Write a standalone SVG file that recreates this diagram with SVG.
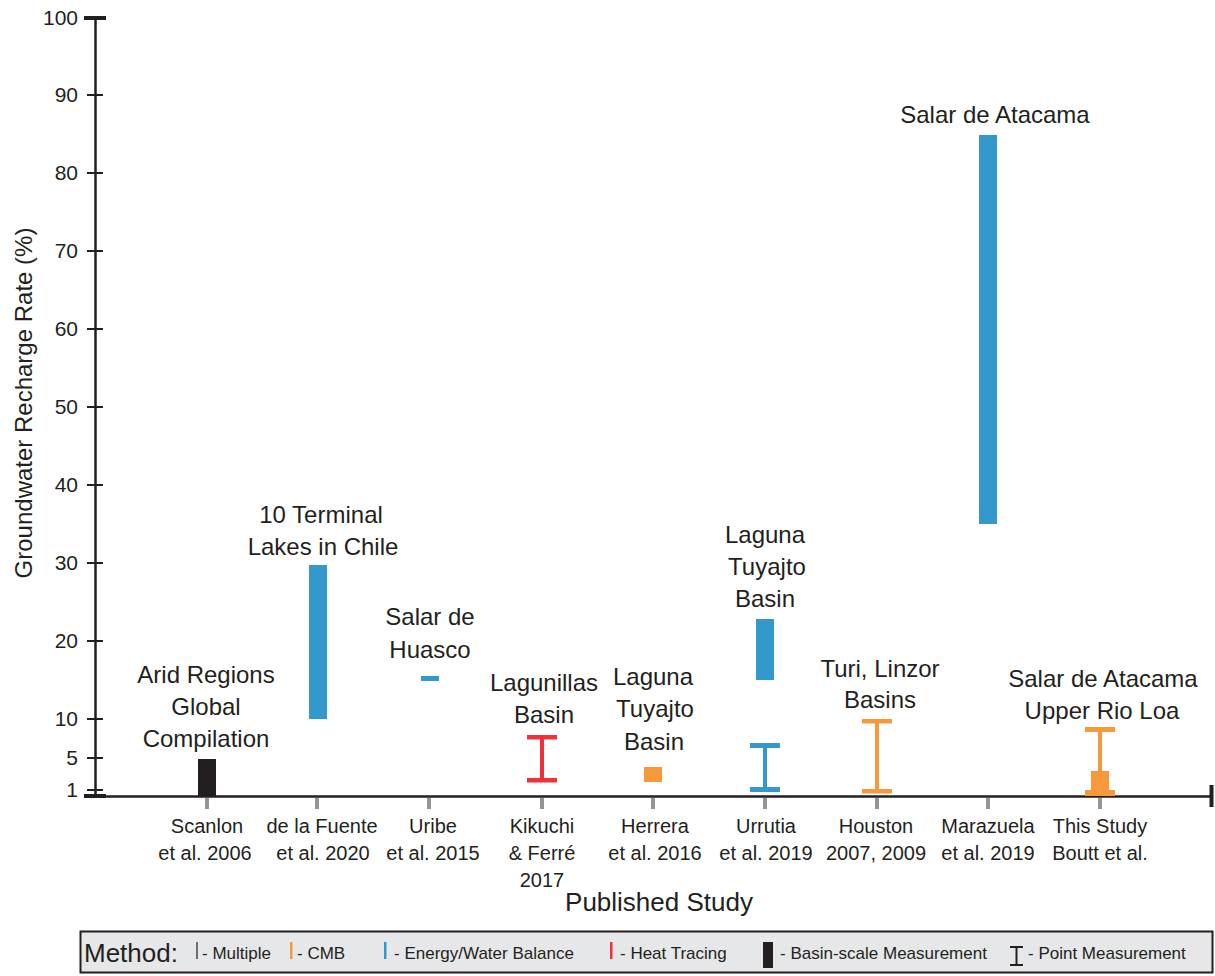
<svg xmlns="http://www.w3.org/2000/svg" width="1215" height="976" viewBox="0 0 1215 976">
<style>
.t{font-family:"Liberation Sans",Arial,sans-serif;fill:#231f20}
.ax{font-size:21px;text-anchor:end}
.lb{font-size:24px;text-anchor:middle}
.xl{font-size:20px;text-anchor:middle}
.lg{font-size:17px}
.blue{fill:#3399cc}
.orange{fill:#f7993a}
.red{fill:#ee3237}
.blk{fill:#231f20}
.axl{stroke:#231f20;fill:none}
.xt{stroke:#939598;stroke-width:4}
</style>
<rect width="1215" height="976" fill="#ffffff"/>
<g id="axes">
<line class="axl" x1="95.5" y1="18" x2="95.5" y2="797" stroke-width="2.5"/>
<line class="axl" x1="84" y1="18" x2="106" y2="18" stroke-width="4"/>
<g stroke="#231f20" stroke-width="2">
<line x1="87" y1="95" x2="103" y2="95"/>
<line x1="87" y1="173" x2="103" y2="173"/>
<line x1="87" y1="251" x2="103" y2="251"/>
<line x1="87" y1="329" x2="103" y2="329"/>
<line x1="87" y1="407" x2="103" y2="407"/>
<line x1="87" y1="485" x2="103" y2="485"/>
<line x1="87" y1="563" x2="103" y2="563"/>
<line x1="87" y1="641" x2="103" y2="641"/>
<line x1="87" y1="719" x2="103" y2="719"/>
<line x1="87" y1="758" x2="103" y2="758"/>
<line x1="87" y1="790" x2="103" y2="790"/>
</g>
<line class="axl" x1="84" y1="796" x2="106" y2="796" stroke-width="4"/>
<line class="axl" x1="95" y1="796.5" x2="1212" y2="796.5" stroke-width="2.5"/>
<line class="axl" x1="1211.5" y1="785" x2="1211.5" y2="807" stroke-width="4"/>
<g class="t ax">
<text x="78" y="25">100</text>
<text x="78" y="102">90</text>
<text x="78" y="180">80</text>
<text x="78" y="258">70</text>
<text x="78" y="336">60</text>
<text x="78" y="414">50</text>
<text x="78" y="492">40</text>
<text x="78" y="570">30</text>
<text x="78" y="648">20</text>
<text x="78" y="726">10</text>
<text x="78" y="765">5</text>
<text x="78" y="797">1</text>
</g>
<g>
<line class="xt" x1="207" y1="798" x2="207" y2="809"/>
<line class="xt" x1="317" y1="798" x2="317" y2="809"/>
<line class="xt" x1="429" y1="798" x2="429" y2="809"/>
<line class="xt" x1="542" y1="798" x2="542" y2="809"/>
<line class="xt" x1="653" y1="798" x2="653" y2="809"/>
<line class="xt" x1="765" y1="798" x2="765" y2="809"/>
<line class="xt" x1="877" y1="798" x2="877" y2="809"/>
<line class="xt" x1="988" y1="798" x2="988" y2="809"/>
<line class="xt" x1="1100" y1="798" x2="1100" y2="809"/>
</g>
<text class="t" font-size="24" text-anchor="middle" transform="translate(32,403) rotate(-90)">Groundwater Recharge Rate (%)</text>
<text class="t" font-size="26" text-anchor="middle" x="659" y="911">Published Study</text>
</g>
<g id="scanlon">
<rect class="blk" x="198" y="759" width="18" height="37"/>
<text class="t lb" x="206" y="683">Arid Regions</text>
<text class="t lb" x="206" y="715">Global</text>
<text class="t lb" x="206" y="747">Compilation</text>
<text class="t xl" x="207" y="833">Scanlon</text>
<text class="t xl" x="205" y="860">et al. 2006</text>
</g>
<g id="delafuente">
<rect class="blue" x="309" y="565" width="18" height="154"/>
<text class="t lb" x="321" y="523">10 Terminal</text>
<text class="t lb" x="323" y="555">Lakes in Chile</text>
<text class="t xl" x="322" y="833">de la Fuente</text>
<text class="t xl" x="323" y="860">et al. 2020</text>
</g>
<g id="uribe">
<rect class="blue" x="421" y="676" width="18" height="5"/>
<text class="t lb" x="430" y="625">Salar de</text>
<text class="t lb" x="430" y="658">Huasco</text>
<text class="t xl" x="433" y="833">Uribe</text>
<text class="t xl" x="433" y="860">et al. 2015</text>
</g>
<g id="kikuchi">
<rect class="red" x="527" y="735" width="30" height="4.5"/>
<rect class="red" x="540" y="737" width="4" height="43"/>
<rect class="red" x="527" y="778" width="30" height="4.5"/>
<text class="t lb" x="544" y="691">Lagunillas</text>
<text class="t lb" x="544" y="723">Basin</text>
<text class="t xl" x="542" y="833">Kikuchi</text>
<text class="t xl" x="542" y="860">&amp; Ferré</text>
<text class="t xl" x="542" y="887">2017</text>
</g>
<g id="herrera">
<rect class="orange" x="644" y="767" width="18" height="15"/>
<text class="t lb" x="653" y="685">Laguna</text>
<text class="t lb" x="655" y="717">Tuyajto</text>
<text class="t lb" x="654" y="750">Basin</text>
<text class="t xl" x="655" y="833">Herrera</text>
<text class="t xl" x="655" y="860">et al. 2016</text>
</g>
<g id="urrutia">
<rect class="blue" x="756" y="619" width="18" height="61"/>
<rect class="blue" x="750" y="743" width="30" height="5"/>
<rect class="blue" x="763" y="745" width="4" height="44"/>
<rect class="blue" x="750" y="787" width="30" height="5"/>
<text class="t lb" x="765" y="543">Laguna</text>
<text class="t lb" x="767" y="575">Tuyajto</text>
<text class="t lb" x="765" y="607">Basin</text>
<text class="t xl" x="766" y="833">Urrutia</text>
<text class="t xl" x="766" y="860">et al. 2019</text>
</g>
<g id="houston">
<rect class="orange" x="862" y="719" width="30" height="4.5"/>
<rect class="orange" x="875" y="721" width="4" height="70"/>
<rect class="orange" x="862" y="789" width="30" height="4.5"/>
<text class="t lb" x="880" y="677">Turi, Linzor</text>
<text class="t lb" x="880" y="708">Basins</text>
<text class="t xl" x="876" y="833">Houston</text>
<text class="t xl" x="876" y="860">2007, 2009</text>
</g>
<g id="marazuela">
<rect class="blue" x="979" y="135" width="18" height="389"/>
<text class="t lb" x="995" y="123">Salar de Atacama</text>
<text class="t xl" x="988" y="833">Marazuela</text>
<text class="t xl" x="988" y="860">et al. 2019</text>
</g>
<g id="thisstudy">
<rect class="orange" x="1085" y="727" width="30" height="5"/>
<rect class="orange" x="1098" y="730" width="4" height="62"/>
<rect class="orange" x="1091" y="771" width="18" height="25"/>
<rect class="orange" x="1085" y="790" width="30" height="6"/>
<text class="t lb" x="1103" y="687">Salar de Atacama</text>
<text class="t lb" x="1102" y="719">Upper Rio Loa</text>
<text class="t xl" x="1100" y="833">This Study</text>
<text class="t xl" x="1100" y="860">Boutt et al.</text>
</g>
<g id="legend">
<rect x="80.5" y="931.5" width="1132" height="41" fill="#e6e7e8" stroke="#231f20" stroke-width="2"/>
<text class="t" font-size="26" x="84" y="962">Method:</text>
<rect x="196" y="942" width="2" height="17" fill="#6d6e71"/>
<text class="t lg" x="202" y="959">- Multiple</text>
<rect x="290" y="942" width="2.5" height="17" fill="#f7993a"/>
<text class="t lg" x="297" y="959">- CMB</text>
<rect x="384" y="942" width="2.5" height="17" fill="#3399cc"/>
<text class="t lg" x="394" y="959">- Energy/Water Balance</text>
<rect x="610" y="942" width="2.5" height="17" fill="#ee3237"/>
<text class="t lg" x="620" y="959">- Heat Tracing</text>
<rect x="763" y="942" width="10" height="26" fill="#231f20"/>
<text class="t lg" x="780" y="959">- Basin-scale Measurement</text>
<g fill="#231f20">
<rect x="1010" y="946" width="13" height="2"/>
<rect x="1015.5" y="947" width="2" height="18"/>
<rect x="1010" y="964" width="13" height="2"/>
</g>
<text class="t lg" x="1028" y="959">- Point Measurement</text>
</g>
</svg>
